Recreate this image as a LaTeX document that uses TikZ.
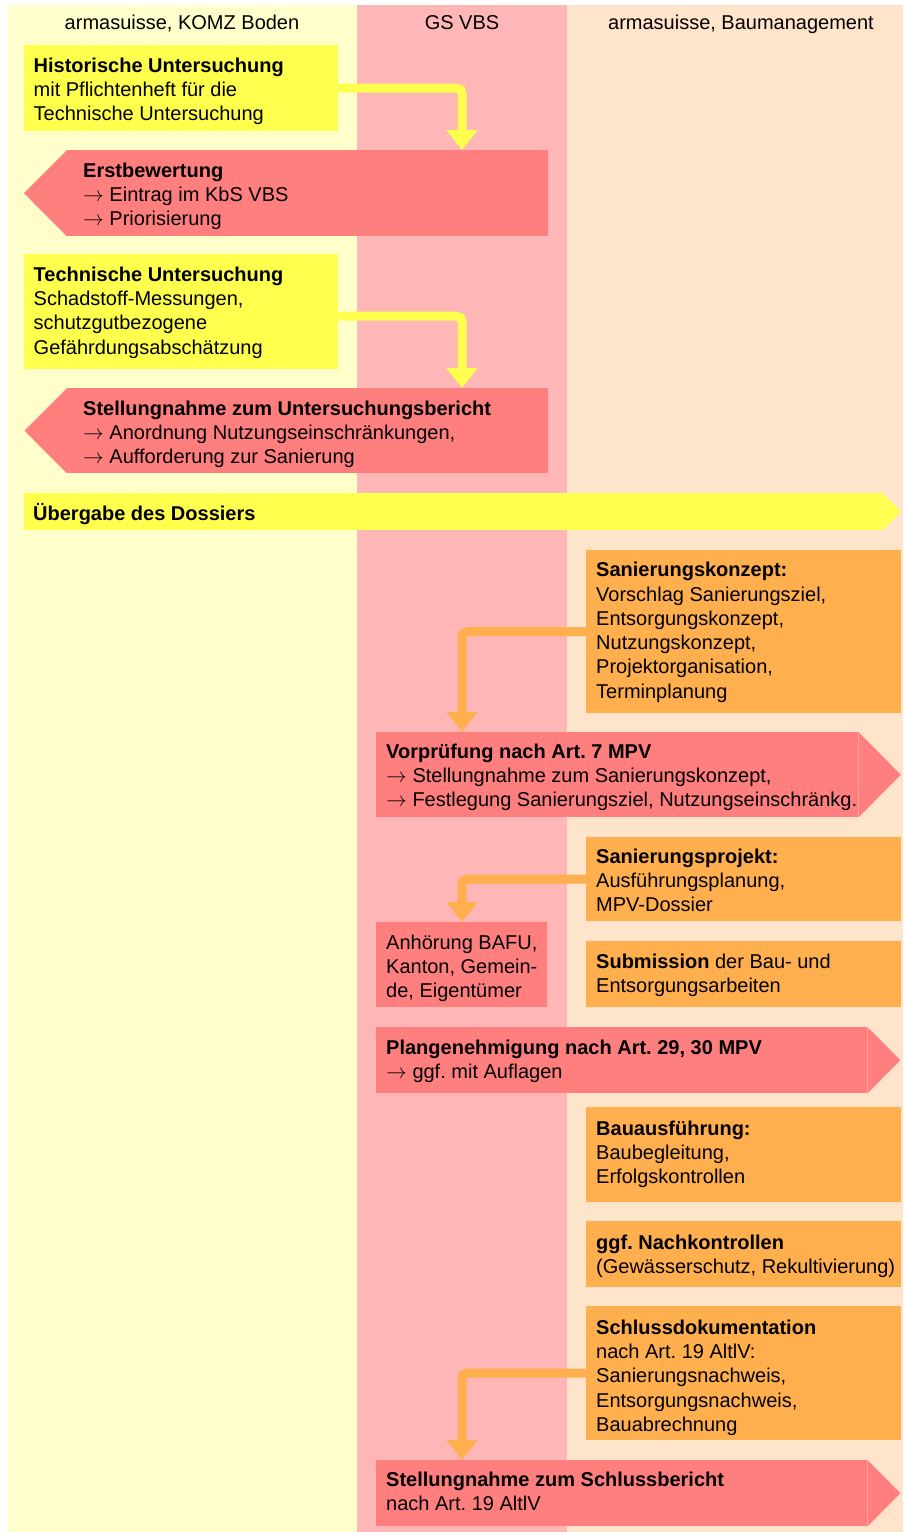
\documentclass[tikz,border=0pt]{standalone}
\usepackage{fontspec}
\setmainfont{Liberation Sans}
\usetikzlibrary{arrows.meta}
\definecolor{laneA}{HTML}{FFFFCC}
\definecolor{laneB}{HTML}{FFB6B6}
\definecolor{laneC}{HTML}{FFE4CC}
\definecolor{ylw}{HTML}{FFFF4D}
\definecolor{rd}{HTML}{FF7F7F}
\definecolor{orng}{HTML}{FFAF4D}
\newcommand{\fl}{\rule{0pt}{20pt}}
\tikzset{
  txt/.style={font=\fontsize{20}{24.3}\selectfont, align=left, inner sep=0pt, anchor=north west},
  hdr/.style={font=\fontsize{20}{24.3}\selectfont, inner sep=0pt, anchor=base},
  boxshape/.style n args={2}{inner sep=0pt, anchor=north west, minimum width=#1, minimum height=#2},
  ybox/.style 2 args={boxshape={#1}{#2}, fill=ylw},
  rbox/.style 2 args={boxshape={#1}{#2}, fill=rd},
  obox/.style 2 args={boxshape={#1}{#2}, fill=orng},
  yarr/.style={draw=ylw, line width=9pt, rounded corners=5pt, -{Triangle[width=30pt,length=20pt]}},
  oarr/.style={draw=orng, line width=9pt, rounded corners=5pt, -{Triangle[width=30pt,length=20pt]}},
}
\begin{document}
\frenchspacing
\begin{tikzpicture}[x=1pt,y=-1pt]
\useasboundingbox (0,0) rectangle (903,1532);
\fill[white] (0,0) rectangle (903,1532);
\fill[laneA] (8,5) rectangle (357,1532);
\fill[laneB] (357,5) rectangle (567,1532);
\fill[laneC] (567,5) rectangle (903,1532);
\coordinate (gsx) at (462,0);
\node[hdr] (h1) at (182,29) {armasuisse, KOMZ Boden};
\node[hdr] (h2) at (462,29) {GS VBS};
\node[hdr] (h3) at (741,29) {armasuisse, Baumanagement};

% ---------- boxes ----------
\node[ybox={314pt}{86pt}] (hist) at (24,45) {};
\node[rbox={481pt}{86pt}] (erst) at (67,150) {};
\fill[rd] (erst.north west) -- ([xshift=-43pt]erst.west) -- (erst.south west) -- cycle;
\node[ybox={314pt}{115pt}] (tech) at (24,254) {};
\node[rbox={481pt}{85pt}] (stell) at (67,388) {};
\fill[rd] (stell.north west) -- ([xshift=-42.5pt]stell.west) -- (stell.south west) -- cycle;
\node[ybox={858pt}{37pt}] (ueb) at (24,493) {};
\fill[ylw] (ueb.north east) -- ([xshift=18.5pt]ueb.east) -- (ueb.south east) -- cycle;
\node[obox={315pt}{163pt}] (konz) at (586,550) {};
\node[rbox={482pt}{85pt}] (vorp) at (376,732) {};
\fill[rd] (vorp.north east) -- ([xshift=42.5pt]vorp.east) -- (vorp.south east) -- cycle;
\node[obox={315pt}{84pt}] (proj) at (586,837) {};
\node[rbox={171pt}{85pt}] (anh) at (376,922) {};
\node[obox={315pt}{66pt}] (subm) at (586,941) {};
\node[rbox={491pt}{66pt}] (plan) at (376,1027) {};
\fill[rd] (plan.north east) -- ([xshift=33pt]plan.east) -- (plan.south east) -- cycle;
\node[obox={315pt}{95pt}] (bau) at (586,1107) {};
\node[obox={315pt}{66pt}] (nach) at (586,1221) {};
\node[obox={315pt}{134pt}] (sdok) at (586,1306) {};
\node[rbox={491pt}{66pt}] (sber) at (376,1460) {};
\fill[rd] (sber.north east) -- ([xshift=33pt]sber.east) -- (sber.south east) -- cycle;

% ---------- texts ----------
\node[txt] (histT) at ([shift={(9.5,7)}]hist.north west)
 {\fl\textbf{Historische Untersuchung}\\mit Pflichtenheft für die\\Technische Untersuchung};
\node[txt] (erstT) at ([shift={(16,7)}]erst.north west)
 {\fl\textbf{Erstbewertung}\\$\rightarrow$ Eintrag im KbS VBS\\$\rightarrow$ Priorisierung};
\node[txt] (techT) at ([shift={(9.5,7)}]tech.north west)
 {\fl\textbf{Technische Untersuchung}\\Schadstoff-Messungen,\\schutzgutbezogene\\Gefährdungsabschätzung};
\node[txt] (stellT) at ([shift={(16,7)}]stell.north west)
 {\fl\textbf{Stellungnahme zum Untersuchungsbericht}\\$\rightarrow$ Anordnung Nutzungseinschränkungen,\\$\rightarrow$ Aufforderung zur Sanierung};
\node[txt] (uebT) at ([shift={(9,7)}]ueb.north west)
 {\fl\textbf{Übergabe des Dossiers}};
\node[txt] (konzT) at ([shift={(10,6.5)}]konz.north west)
 {\fl\textbf{Sanierungskonzept:}\\Vorschlag Sanierungsziel,\\Entsorgungskonzept,\\Nutzungskonzept,\\Projektorganisation,\\Terminplanung};
\node[txt] (vorpT) at ([shift={(10,6)}]vorp.north west)
 {\fl\textbf{Vorprüfung nach Art. 7 MPV}\\$\rightarrow$ Stellungnahme zum Sanierungskonzept,\\$\rightarrow$ Festlegung Sanierungsziel, Nutzungseinschränkg.};
\node[txt] (projT) at ([shift={(10,6)}]proj.north west)
 {\fl\textbf{Sanierungsprojekt:}\\Ausführungsplanung,\\MPV-Dossier};
\node[txt] (anhT) at ([shift={(10,7)}]anh.north west)
 {\fl Anhörung BAFU,\\Kanton, Gemein-\\de, Eigentümer};
\node[txt] (submT) at ([shift={(10,7)}]subm.north west)
 {\fl\textbf{Submission} der Bau- und\\Entsorgungsarbeiten};
\node[txt] (planT) at ([shift={(10,7)}]plan.north west)
 {\fl\textbf{Plangenehmigung nach Art. 29, 30 MPV}\\$\rightarrow$ ggf. mit Auflagen};
\node[txt] (bauT) at ([shift={(10,8)}]bau.north west)
 {\fl\textbf{Bauausführung:}\\Baubegleitung,\\Erfolgskontrollen};
\node[txt] (nachT) at ([shift={(10,8)}]nach.north west)
 {\fl\textbf{ggf. Nachkontrollen}\\(Gewässerschutz, Rekultivierung)};
\node[txt] (sdokT) at ([shift={(10,8)}]sdok.north west)
 {\fl\textbf{Schlussdokumentation}\\nach Art. 19 AltlV:\\Sanierungsnachweis,\\Entsorgungsnachweis,\\Bauabrechnung};
\node[txt] (sberT) at ([shift={(10,6)}]sber.north west)
 {\fl\textbf{Stellungnahme zum Schlussbericht}\\nach Art. 19 AltlV};

% ---------- arrows ----------
\draw[yarr] (hist.east) -| (erst.north -| gsx);
\draw[yarr] ([yshift=-4.5pt]tech.east) -| (stell.north -| gsx);
\draw[oarr] (konz.west) -| (vorp.north -| gsx);
\draw[oarr] (proj.west) -| (anh.north -| gsx);
\draw[oarr] (sdok.west) -| (sber.north -| gsx);
\end{tikzpicture}
\end{document}
